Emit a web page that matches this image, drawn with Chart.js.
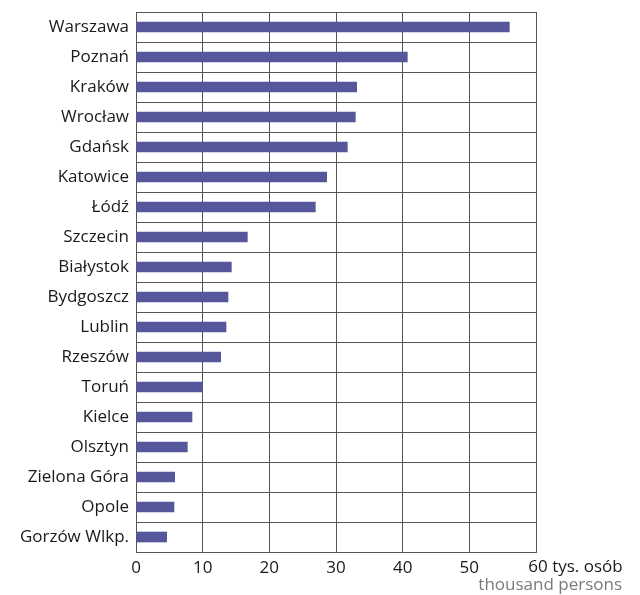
<!DOCTYPE html>
<html>
<head>
<meta charset="utf-8">
<script src="https://cdn.jsdelivr.net/npm/chart.js@4"></script>
<style>
  body { margin: 0; background: #fff; }
</style>
</head>
<body>
<canvas id="chart" width="640" height="595"></canvas>
<script>
// miasta i wartości (tys. osób)
var cities = ['Warszawa', 'Poznań', 'Kraków', 'Wrocław', 'Gdańsk', 'Katowice', 'Łódź', 'Szczecin', 'Białystok',
    'Bydgoszcz', 'Lublin', 'Rzeszów', 'Toruń', 'Kielce', 'Olsztyn', 'Zielona Góra', 'Opole', 'Gorzów Wlkp.'];
var values = [56.0, 40.7, 33.1, 32.9, 31.7, 28.6, 26.9, 16.7, 14.3, 13.8, 13.5, 12.7, 10.0, 8.4, 7.7, 5.8, 5.7, 4.6];
var xTicks = [0, 10, 20, 30, 40, 50, 60];
var unitPl = 'tys. osób';
var unitEn = 'thousand persons';

var fontFamily = '"Open Sans", sans-serif';
var fontSize = 17;

// podpis jednostek przy ostatniej wartości osi
var unitsPlugin = {
    id: 'units',
    afterDraw: function(chart) {
        var ctx = chart.ctx;
        var x = chart.scales.x;
        var last = xTicks[xTicks.length - 1];
        var px = x.getPixelForValue(last);
        ctx.save();
        ctx.font = fontSize + 'px ' + fontFamily;
        ctx.fillStyle = '#1a1a1a';
        ctx.textBaseline = 'middle';
        ctx.textAlign = 'left';
        var w = ctx.measureText(String(last)).width;
        ctx.fillText(last + ' ' + unitPl, px - w / 2 + 2, 567);
        ctx.fillStyle = '#7a7a7a';
        ctx.textAlign = 'right';
        ctx.fillText(unitEn, 622, 585);
        ctx.restore();
    }
};

var ctx = document.getElementById('chart').getContext('2d');
new Chart(ctx, {
    type: 'bar',
    data: {
        labels: cities,
        datasets: [{
            data: values,
            backgroundColor: '#55579a',
            barThickness: 10
        }]
    },
    options: {
        indexAxis: 'y',
        responsive: false,
        animation: false,
        layout: { padding: { top: 12, right: 104, left: 0, bottom: 0 } },
        plugins: {
            legend: { display: false },
            tooltip: { enabled: false }
        },
        scales: {
            x: {
                min: 0,
                max: 60,
                afterFit: function(s) {
                    s.height = 43;
                    s.paddingLeft = 0;
                    s.paddingRight = 0;
                },
                afterBuildTicks: function(s) {
                    s.ticks = xTicks.map(function(v) { return { value: v }; });
                },
                grid: { color: '#555', drawTicks: false },
                border: { color: '#555' },
                ticks: {
                    padding: 6,
                    color: '#1a1a1a',
                    font: { family: fontFamily, size: fontSize },
                    callback: function(v) { return v === 60 ? '' : v; }
                }
            },
            y: {
                afterFit: function(s) {
                    s.width = 136;
                    s.paddingTop = 0;
                    s.paddingBottom = 0;
                },
                grid: { color: '#555', drawTicks: false },
                border: { color: '#555' },
                ticks: {
                    padding: 7,
                    color: '#1a1a1a',
                    font: { family: fontFamily, size: fontSize }
                }
            }
        }
    },
    plugins: [unitsPlugin]
});
</script>
</body>
</html>
